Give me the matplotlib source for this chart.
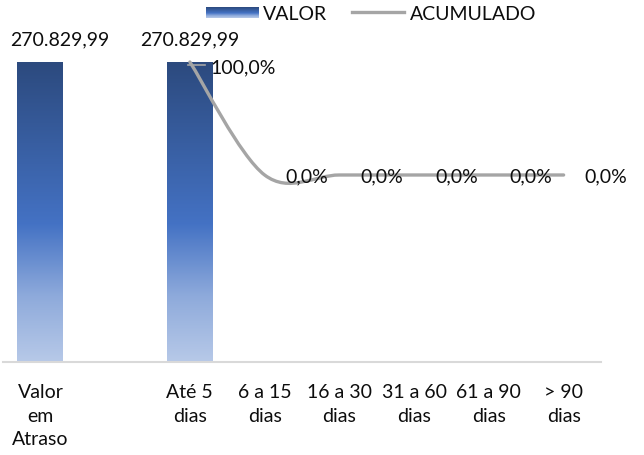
import numpy as np
import matplotlib
matplotlib.use("Agg")
import matplotlib.pyplot as plt
from matplotlib.colors import LinearSegmentedColormap
from matplotlib.path import Path
from matplotlib.patches import PathPatch
import matplotlib.transforms as mtransforms

plt.rcParams['font.family'] = ['Lato', 'DejaVu Sans']

categorias = ["Valor\nem\nAtraso", "", "Até 5\ndias", "6 a 15\ndias", "16 a 30\ndias",
              "31 a 60\ndias", "61 a 90\ndias", "> 90\ndias"]
valor = [270829.99, 0, 270829.99, 0, 0, 0, 0, 0]
valor_labels = ["270.829,99", "", "270.829,99", "", "", "", "", ""]
# acumulado only starts at "Até 5 dias"
acum_idx = [2, 3, 4, 5, 6, 7]
acumulado = [100.0, 0.0, 0.0, 0.0, 0.0, 0.0]
acum_labels = ["100,0%", "0,0%", "0,0%", "0,0%", "0,0%", "0,0%"]

FS = 14
TXT = "#0d0d0d"
W, H = 644, 456
fig = plt.figure(figsize=(W / 100, H / 100), dpi=100)
ax = fig.add_axes([3 / W, 1 - 363 / H, 598 / W, 313 / H])
ax2 = ax.twinx()

grad = LinearSegmentedColormap.from_list(
    "g", [(0, "#b7c9e8"), (0.22, "#8eaadb"), (0.46, "#4472c4"), (1, "#2c4a7e")])
x = np.arange(len(categorias))
bw = 0.615
ax.set_xlim(-0.5, len(categorias) - 0.5)
ax.set_ylim(0, 282566)
for i, (xi, v, lab) in enumerate(zip(x, valor, valor_labels)):
    if v <= 0:
        continue
    ax.imshow(np.linspace(0, 1, 256).reshape(-1, 1), cmap=grad, origin="lower",
              extent=(xi - bw / 2, xi + bw / 2, 0, v), aspect="auto", zorder=2)
    # first label is pushed right so it stays inside the chart
    dx = 19 if i == 0 else 0
    ax.annotate(lab, (xi, v), xytext=(dx, 23), textcoords="offset pixels",
                ha="center", va="center", fontsize=FS, color=TXT)

ax.set_xticks(x)
ax.set_xticklabels(categorias, fontsize=FS, color=TXT, linespacing=1.48)
ax.tick_params(axis="x", length=0, pad=15)
ax.set_yticks([])
ax2.set_yticks([])
for a in (ax, ax2):
    for s in a.spines.values():
        s.set_visible(False)
ax.spines["bottom"].set_visible(True)
ax.spines["bottom"].set_color("#d9d9d9")
ax.spines["bottom"].set_linewidth(1.5)

# smoothed line (Catmull-Rom style control points, like Excel)
ax2.set_ylim(-165.5, 111.5)
pts = np.column_stack([acum_idx, acumulado]).astype(float)
verts = [pts[0]]
codes = [Path.MOVETO]
n = len(pts)
for i in range(n - 1):
    p0 = pts[max(i - 1, 0)]
    p1 = pts[i]
    p2 = pts[i + 1]
    p3 = pts[min(i + 2, n - 1)]
    verts += [p1 + (p2 - p0) / 6, p2 - (p3 - p1) / 6, p2]
    codes += [Path.CURVE4] * 3
ax2.add_patch(PathPatch(Path(verts, codes), fill=False, edgecolor="#a5a5a5",
                        lw=2.4, capstyle="round", zorder=3))
for xi, v, lab in zip(acum_idx, acumulado, acum_labels):
    dy = -5 if v > 0 else -1
    ax2.annotate(lab, (xi, v), xytext=(21, dy), textcoords="offset pixels",
                 ha="left", va="center", fontsize=FS, color=TXT)
# leader line of the 100% label
tr = mtransforms.offset_copy(ax2.transData, fig=fig, x=0, y=-3, units="dots")
ax2.plot([acum_idx[0] - 0.03, acum_idx[0] + 0.2], [acumulado[0], acumulado[0]],
         color="#a5a5a5", lw=1.2, transform=tr)

# legend
lax = fig.add_axes([206 / W, 1 - 19 / H, 53 / W, 11 / H])
lax.imshow(np.linspace(0, 1, 64).reshape(-1, 1), cmap=grad, aspect="auto", origin="lower")
lax.axis("off")
fig.text(263 / W, 1 - 14 / H, "VALOR", ha="left", va="center", fontsize=FS, color=TXT)
fig.add_artist(plt.Line2D([352 / W, 404 / W], [1 - 13 / H, 1 - 13 / H],
                          color="#a5a5a5", lw=2.4, transform=fig.transFigure))
fig.text(410 / W, 1 - 14 / H, "ACUMULADO", ha="left", va="center", fontsize=FS, color=TXT)

fig.savefig("out.png", dpi=100)
